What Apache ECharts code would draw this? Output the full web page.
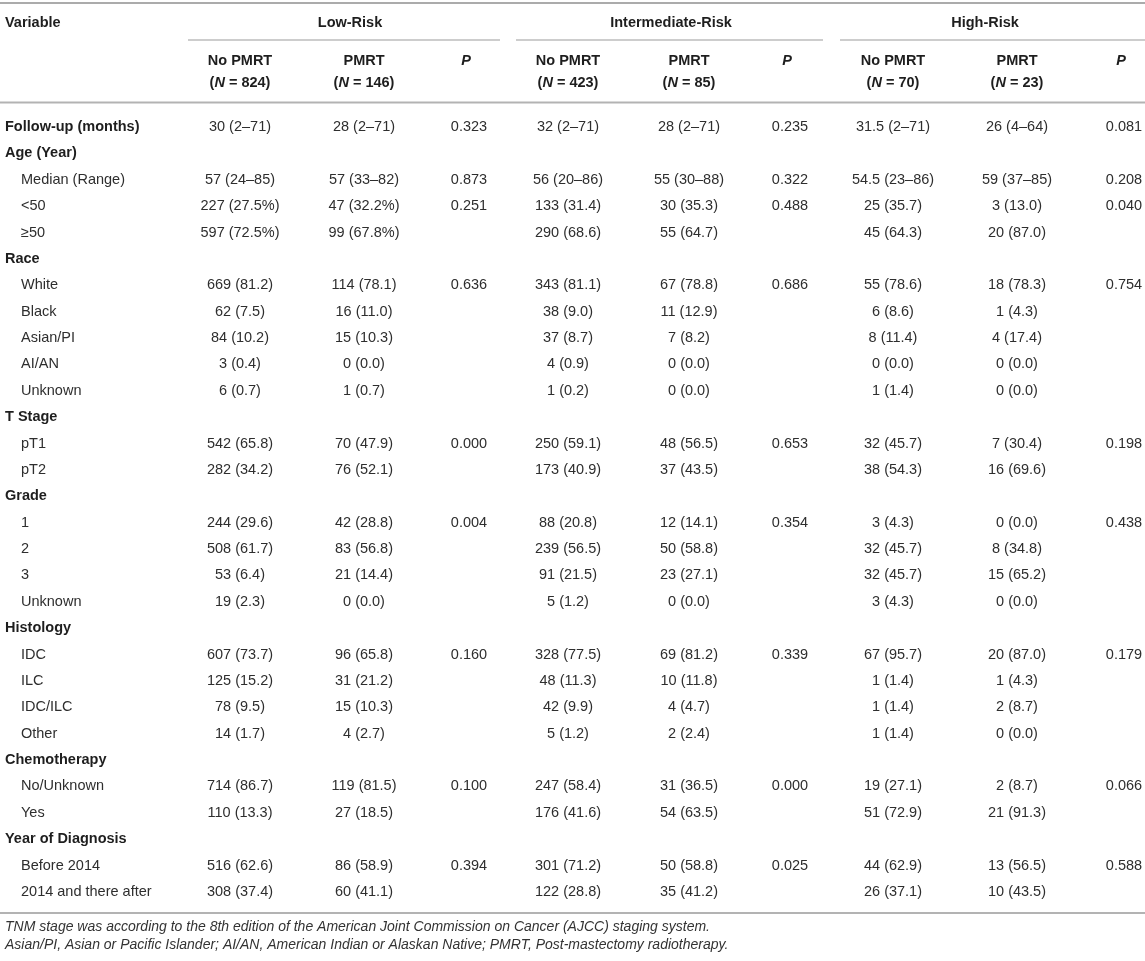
<!DOCTYPE html>
<html>
	<head>
		<meta charset="UTF-8">
		<title></title>
		<script src="https://cdn.jsdelivr.net/npm/echarts/dist/echarts.min.js"></script>
		<style type="text/css">
			html, body{
				margin: 0;
				padding: 0;
				background: #fff;
			}
			#table{
				width: 1145px;
				height: 961px;
			}
		</style>
	</head>
	<body>
		<div id="table"></div>
		<script>
		// row labels, bold = section heading
		var rowLabels = ['Follow-up (months)', 'Age (Year)', 'Median (Range)', '<50', '≥50',
			'Race', 'White', 'Black', 'Asian/PI', 'AI/AN', 'Unknown',
			'T Stage', 'pT1', 'pT2',
			'Grade', '1', '2', '3', 'Unknown',
			'Histology', 'IDC', 'ILC', 'IDC/ILC', 'Other',
			'Chemotherapy', 'No/Unknown', 'Yes',
			'Year of Diagnosis', 'Before 2014', '2014 and there after'];
		var rowBold = [1, 1, 0, 0, 0, 1, 0, 0, 0, 0, 0, 1, 0, 0, 1, 0, 0, 0, 0, 1, 0, 0, 0, 0, 1, 0, 0, 1, 0, 0];

		var groups = ['Low-Risk', 'Intermediate-Risk', 'High-Risk'];
		var groupN = [[824, 146], [423, 85], [70, 23]];

		// Low-Risk
		var lowNo = ['30 (2–71)', '', '57 (24–85)', '227 (27.5%)', '597 (72.5%)', '', '669 (81.2)', '62 (7.5)', '84 (10.2)', '3 (0.4)', '6 (0.7)',
			'', '542 (65.8)', '282 (34.2)', '', '244 (29.6)', '508 (61.7)', '53 (6.4)', '19 (2.3)',
			'', '607 (73.7)', '125 (15.2)', '78 (9.5)', '14 (1.7)', '', '714 (86.7)', '110 (13.3)', '', '516 (62.6)', '308 (37.4)'];
		var lowPm = ['28 (2–71)', '', '57 (33–82)', '47 (32.2%)', '99 (67.8%)', '', '114 (78.1)', '16 (11.0)', '15 (10.3)', '0 (0.0)', '1 (0.7)',
			'', '70 (47.9)', '76 (52.1)', '', '42 (28.8)', '83 (56.8)', '21 (14.4)', '0 (0.0)',
			'', '96 (65.8)', '31 (21.2)', '15 (10.3)', '4 (2.7)', '', '119 (81.5)', '27 (18.5)', '', '86 (58.9)', '60 (41.1)'];
		var lowP = ['0.323', '', '0.873', '0.251', '', '', '0.636', '', '', '', '',
			'', '0.000', '', '', '0.004', '', '', '',
			'', '0.160', '', '', '', '', '0.100', '', '', '0.394', ''];

		// Intermediate-Risk
		var intNo = ['32 (2–71)', '', '56 (20–86)', '133 (31.4)', '290 (68.6)', '', '343 (81.1)', '38 (9.0)', '37 (8.7)', '4 (0.9)', '1 (0.2)',
			'', '250 (59.1)', '173 (40.9)', '', '88 (20.8)', '239 (56.5)', '91 (21.5)', '5 (1.2)',
			'', '328 (77.5)', '48 (11.3)', '42 (9.9)', '5 (1.2)', '', '247 (58.4)', '176 (41.6)', '', '301 (71.2)', '122 (28.8)'];
		var intPm = ['28 (2–71)', '', '55 (30–88)', '30 (35.3)', '55 (64.7)', '', '67 (78.8)', '11 (12.9)', '7 (8.2)', '0 (0.0)', '0 (0.0)',
			'', '48 (56.5)', '37 (43.5)', '', '12 (14.1)', '50 (58.8)', '23 (27.1)', '0 (0.0)',
			'', '69 (81.2)', '10 (11.8)', '4 (4.7)', '2 (2.4)', '', '31 (36.5)', '54 (63.5)', '', '50 (58.8)', '35 (41.2)'];
		var intP = ['0.235', '', '0.322', '0.488', '', '', '0.686', '', '', '', '',
			'', '0.653', '', '', '0.354', '', '', '',
			'', '0.339', '', '', '', '', '0.000', '', '', '0.025', ''];

		// High-Risk
		var highNo = ['31.5 (2–71)', '', '54.5 (23–86)', '25 (35.7)', '45 (64.3)', '', '55 (78.6)', '6 (8.6)', '8 (11.4)', '0 (0.0)', '1 (1.4)',
			'', '32 (45.7)', '38 (54.3)', '', '3 (4.3)', '32 (45.7)', '32 (45.7)', '3 (4.3)',
			'', '67 (95.7)', '1 (1.4)', '1 (1.4)', '1 (1.4)', '', '19 (27.1)', '51 (72.9)', '', '44 (62.9)', '26 (37.1)'];
		var highPm = ['26 (4–64)', '', '59 (37–85)', '3 (13.0)', '20 (87.0)', '', '18 (78.3)', '1 (4.3)', '4 (17.4)', '0 (0.0)', '0 (0.0)',
			'', '7 (30.4)', '16 (69.6)', '', '0 (0.0)', '8 (34.8)', '15 (65.2)', '0 (0.0)',
			'', '20 (87.0)', '1 (4.3)', '2 (8.7)', '0 (0.0)', '', '2 (8.7)', '21 (91.3)', '', '13 (56.5)', '10 (43.5)'];
		var highP = ['0.081', '', '0.208', '0.040', '', '', '0.754', '', '', '', '',
			'', '0.198', '', '', '0.438', '', '', '',
			'', '0.179', '', '', '', '', '0.066', '', '', '0.588', ''];

		var footnotes = ['TNM stage was according to the 8th edition of the American Joint Commission on Cancer (AJCC) staging system.',
			'Asian/PI, Asian or Pacific Islander; AI/AN, American Indian or Alaskan Native; PMRT, Post-mastectomy radiotherapy.'];

		// layout (pixel x of each column centre on the 0..1145 axis)
		var colX = [240, 364, 469, 568, 689, 790, 893, 1017, 1124];
		var groupLine = [[188, 500], [516, 823], [840, 1145]];
		var groupMid = [350, 671, 985];
		var FONT = '"Liberation Sans", Arial, Helvetica, sans-serif';
		var FS = 14.5;
		var columns = [lowNo, lowPm, lowP, intNo, intPm, intP, highNo, highPm, highP];

		// cells -> [x, row, text, kind]
		var cells = [];
		for (var i = 0; i < rowLabels.length; i++) {
			cells.push([rowBold[i] ? 5 : 21, i, rowLabels[i], rowBold[i] ? 'head' : 'label']);
			for (var c = 0; c < columns.length; c++) {
				if (columns[c][i] !== '') {
					cells.push([colX[c], i, columns[c][i], 'value']);
				}
			}
		}

		// header and rules
		var graphics = [];
		function hline(x1, x2, y, w, col){
			graphics.push({type: 'line', silent: true,
				shape: {x1: x1, y1: y, x2: x2, y2: y},
				style: {stroke: col, lineWidth: w}});
		}
		function txt(x, y, text, align, extra){
			var st = {text: text, x: x, y: y, fill: '#1e1e1e',
				font: 'bold ' + FS + 'px ' + FONT,
				align: align, verticalAlign: 'middle',
				textAlign: align, textVerticalAlign: 'middle'};
			for (var k in extra) { st[k] = extra[k]; }
			graphics.push({type: 'text', silent: true, style: st});
		}
		hline(0, 1145, 3, 2, '#ababab');
		hline(0, 1145, 102.5, 2, '#b3b3b3');
		hline(0, 1145, 913, 2, '#b3b3b3');
		txt(5, 23, 'Variable', 'left');
		var rich = {
			b: {fontFamily: FONT, fontSize: FS, fontWeight: 'bold', fill: '#1e1e1e', color: '#1e1e1e'},
			bi: {fontFamily: FONT, fontSize: FS, fontWeight: 'bold', fontStyle: 'italic', fill: '#1e1e1e', color: '#1e1e1e'}
		};
		for (var g = 0; g < groups.length; g++) {
			txt(groupMid[g], 23, groups[g], 'center');
			hline(groupLine[g][0], groupLine[g][1], 40, 1.5, '#bdbdbd');
			var heads = ['No PMRT', 'PMRT'];
			for (var h = 0; h < 2; h++) {
				var cx = colX[g * 3 + h];
				txt(cx, 61, heads[h], 'center');
				txt(cx, 83, '{b|(}{bi|N}{b| = ' + groupN[g][h] + ')}', 'center', {rich: rich});
			}
			txt(colX[g * 3 + 2] - 3, 61, 'P', 'center', {font: 'italic bold ' + FS + 'px ' + FONT});
		}
		for (var f = 0; f < footnotes.length; f++) {
			txt(5, 927 + f * 18, footnotes[f], 'left', {font: 'italic 14px ' + FONT, fill: '#333'});
		}

		var myTable = echarts.init(document.getElementById('table'));
		var option = {
			animation: false,
			backgroundColor: '#fff',
			grid: {left: 0, right: 0, top: 113.8, bottom: 55.8},
			xAxis: {type: 'value', min: 0, max: 1145, show: false},
			yAxis: {type: 'category', inverse: true, show: false,
				data: rowLabels.map(function (d, i) { return String(i); })},
			graphic: graphics,
			series: [
				{
					type: 'custom',
					coordinateSystem: 'cartesian2d',
					encode: {x: 0, y: 1},
					data: cells,
					renderItem: function (params, api){
						var d = cells[params.dataIndex];
						var p = api.coord([d[0], d[1]]);
						var bold = d[3] === 'head';
						var align = d[3] === 'value' ? 'center' : 'left';
						return {
							type: 'text',
							style: {
								text: d[2], x: p[0], y: p[1],
								font: (bold ? 'bold ' : '') + FS + 'px ' + FONT,
								fill: bold ? '#1e1e1e' : '#2e2e2e',
								align: align, verticalAlign: 'middle',
								textAlign: align, textVerticalAlign: 'middle'
							}
						};
					}
				}
			]
		};
		myTable.setOption(option);
		</script>
	</body>
</html>
